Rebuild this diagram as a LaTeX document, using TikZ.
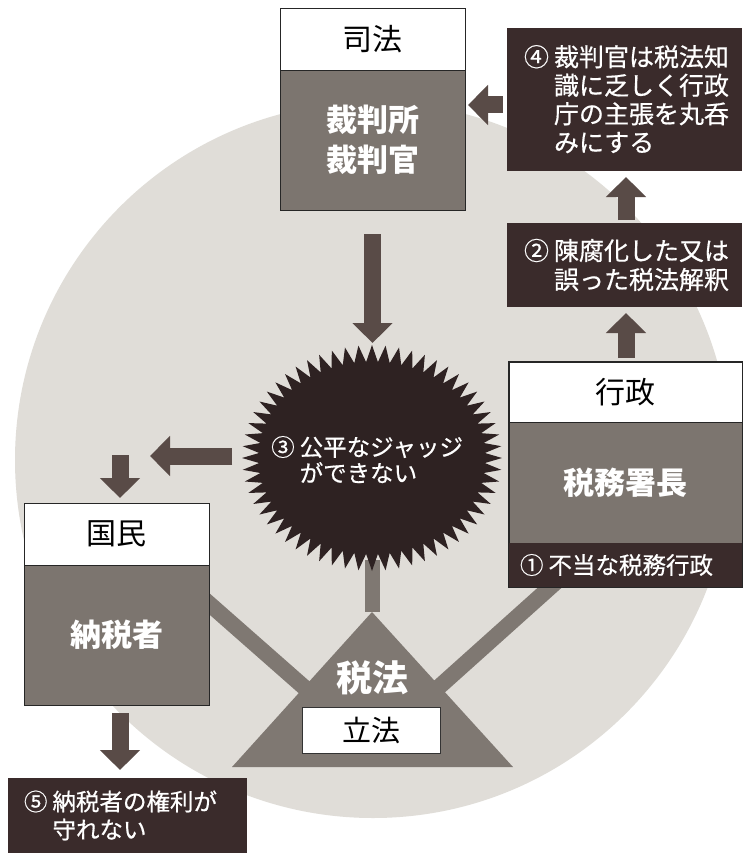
\documentclass[tikz,border=0pt]{standalone}
\usepackage{fontspec}
\setmainfont{Noto Sans CJK JP}
\newfontfamily\jpsemi[FakeBold=0.6]{Noto Sans CJK JP}
\usetikzlibrary{arrows.meta}
\definecolor{circ}{HTML}{E0DDD8}
\definecolor{boxg}{HTML}{7C756F}
\definecolor{darkb}{HTML}{3A2B2B}
\definecolor{burstc}{HTML}{2E2222}
\definecolor{arrc}{HTML}{594B47}
\definecolor{trig}{HTML}{7F7872}
\tikzset{
  hdr/.style={draw=black!85, line width=0.8pt, fill=white, text=black, font=\fontsize{30}{36}\selectfont, inner sep=0pt},
  bodyb/.style={draw=black!85, line width=0.8pt, fill=boxg, text=white, font=\fontsize{31}{40}\selectfont\bfseries, align=center, inner sep=0pt},
  darkbox/.style={fill=darkb, text=white, align=left, inner ysep=0pt},
  barrow/.style={draw=arrc, line width=17pt, -{Triangle[width=39pt,length=20pt]}},
  band/.style={draw=trig, line width=16pt},
  frame/.style={draw=black!85, line width=0.8pt},
}
\begin{document}
\begin{tikzpicture}[x=1pt,y=-1pt]
\useasboundingbox (0,0) rectangle (742,853);
\fill[white] (0,0) rectangle (742,853);
% background circle
\fill[circ] (373,460) circle[radius=358pt];

% named coordinates for bands
\coordinate (bandL) at (180,578);
\coordinate (bandR) at (575,565);
\coordinate (trimeet) at (372,747);
\coordinate (apex) at (372,612);
\coordinate (burstbot) at (372,560);
\draw[band] (bandL) -- (trimeet);
\draw[band] (bandR) -- (trimeet);
\draw[draw=trig, line width=15pt] (burstbot) -- (apex);

% triangle
\fill[trig] (372,612) -- (513,767) -- (232,767) -- cycle;
\node[text=white, font=\fontsize{36}{40}\selectfont\bfseries] (zeiho) at (372,678) {税法};
\node[draw=black!80, line width=0.8pt, fill=white, minimum width=138pt, minimum height=46pt, inner sep=0pt, font=\fontsize{29}{34}\selectfont] (rippo) at (371,730) {立法};

% 司法 box
\node[hdr, minimum width=185pt, minimum height=62pt] (shihoH) at (372.5,39) {司法};
\node[bodyb, minimum width=185pt, minimum height=140pt] (shihoB) at (372.5,140) {裁判所\\裁判官};

% ④ box
\node[darkbox, minimum height=143pt, text width=201pt, inner xsep=17pt, font=\jpsemi\fontsize{25}{28.5}\selectfont] (c4) at (624.5,99.5)
 {④\kern5pt 裁判官は税法知\\\phantom{④}\kern5pt 識に乏しく行政\\\phantom{④}\kern5pt 庁の主張を丸呑\\\phantom{④}\kern5pt みにする};

% ② box
\node[darkbox, minimum height=84pt, text width=201pt, inner xsep=17pt, font=\jpsemi\fontsize{25}{29}\selectfont] (c2) at (624.5,265)
 {②\kern5pt 陳腐化した又は\\\phantom{②}\kern5pt 誤った税法解釈};

% 行政 box
\node[hdr, minimum width=233pt, minimum height=60pt] (gyoH) at (625.5,392) {行政};
\node[bodyb, minimum width=233pt, minimum height=121pt] (gyoB) at (625.5,482.5) {税務署長};
\node[darkbox, minimum height=44pt, text width=211pt, inner xsep=11pt, font=\jpsemi\fontsize{23.5}{27}\selectfont] (c1) at (625.5,565) {①\kern5pt 不当な税務行政};
\draw[frame] (gyoH.north west) rectangle (c1.south east);

% 国民 box
\node[hdr, minimum width=185pt, minimum height=62pt] (kokuH) at (116.5,534) {国民};
\node[bodyb, minimum width=185pt, minimum height=140pt] (kokuB) at (116.5,635) {納税者};

% ⑤ box
\node[darkbox, minimum height=75pt, text width=207pt, inner xsep=16pt, font=\jpsemi\fontsize{23.5}{28}\selectfont] (c5) at (127.5,815.5)
 {⑤\kern5pt 納税者の権利が\\\phantom{⑤}\kern5pt 守れない};

% starburst
\fill[burstc] (502,458) \foreach \i in {0,...,59}{ -- ({372+113*cos(\i*6+3)},{458+96*sin(\i*6+3)}) -- ({372+130*cos(\i*6+6)},{458+113*sin(\i*6+6)}) } -- cycle;
\node[text=white, align=left, anchor=west, inner sep=0pt, font=\jpsemi\fontsize{23.5}{26}\selectfont] (burst) at (271,460)
 {③\kern5pt 公平なジャッジ\\\phantom{③}\kern5pt ができない};

% arrows
\coordinate (bursttop) at (372.5,343);
\draw[barrow, shorten <=24pt] (shihoB.south) -- (bursttop);

\coordinate (c4L) at (503,105);
\coordinate (shihoR) at (468,105);
\draw[barrow] (c4L) -- (shihoR);

\coordinate (c2top) at (626,220);
\coordinate (c4bot) at (626,177);
\draw[barrow] (c2top) -- (c4bot);

\coordinate (gyotop) at (626,358);
\coordinate (c2bot) at (626,313);
\draw[barrow] (gyotop) -- (c2bot);

\coordinate (burstL) at (232,456);
\coordinate (leftTip) at (150,456);
\draw[barrow] (burstL) -- (leftTip);

\coordinate (kaTop) at (120,455);
\coordinate (kaTip) at (120,498);
\draw[barrow] (kaTop) -- (kaTip);

\coordinate (kbTop) at (120,713);
\coordinate (kbTip) at (120,770);
\draw[barrow] (kbTop) -- (kbTip);
\end{tikzpicture}
\end{document}
